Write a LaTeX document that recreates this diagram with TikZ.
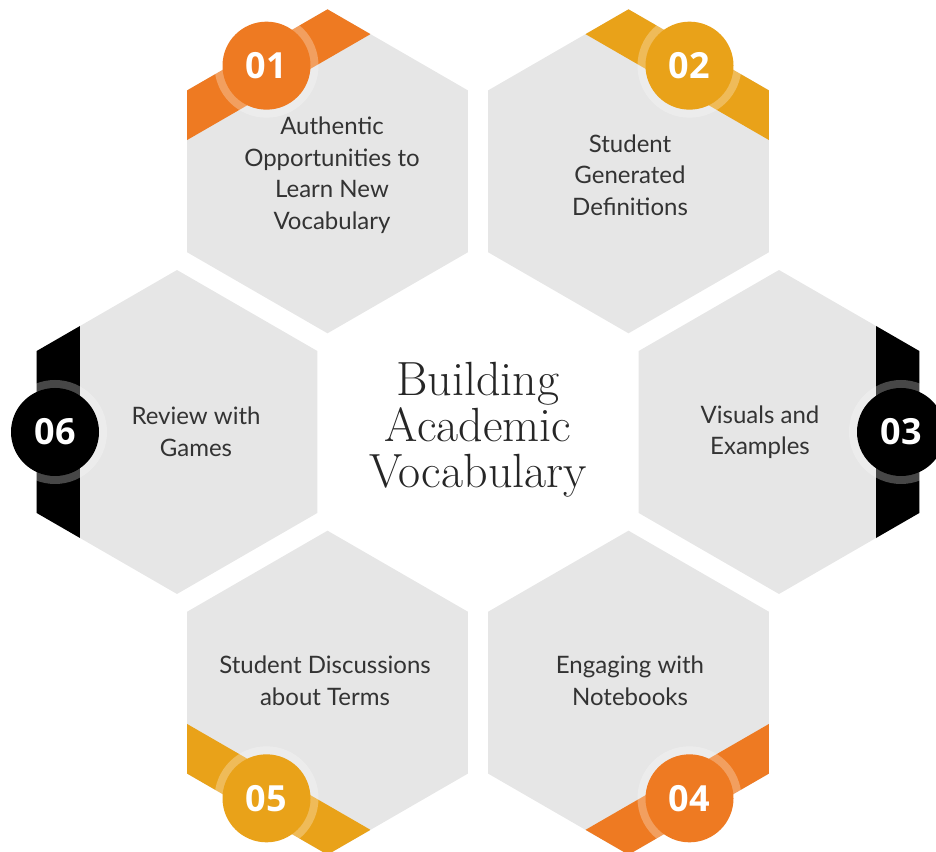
\documentclass[tikz,border=0pt]{standalone}
\usepackage{fontspec}
\newfontfamily\bodyfont{Lato}
\newfontfamily\numfont{Open Sans}
\definecolor{hexgrey}{HTML}{E6E6E6}
\definecolor{cOrange}{HTML}{EE7A22}
\definecolor{cGold}{HTML}{E9A219}
\definecolor{cBlack}{HTML}{000000}
\definecolor{txt}{HTML}{333333}
\tikzset{
  label/.style={align=center,text=txt,font=\bodyfont\fontsize{24}{31.5}\selectfont,inner sep=0pt},
  numtxt/.style={text=white,font=\numfont\bfseries\fontsize{36}{36}\selectfont,inner sep=0pt},
  titletxt/.style={align=center,text=black!85,font=\fontsize{48}{46}\selectfont,inner sep=0pt}
}
\newcommand\hexitem[4]{%
  \begin{scope}[shift={(c)},shift={(#1:301pt)}]
    \begin{scope}
      \clip (30:162pt)--(90:162pt)--(150:162pt)--(210:162pt)--(270:162pt)--(330:162pt)--cycle;
      \fill[hexgrey] (-200pt,-200pt) rectangle (200pt,200pt);
      \fill[#2,rotate=#1] (97.3pt,-200pt) rectangle (200pt,200pt);
    \end{scope}
    \fill[white,opacity=.28] (#1:122pt) circle (52pt);
    \fill[#2] (#1:122pt) circle (44pt);
    \node[numtxt] (n#3) at (#1:122pt) {#4};
  \end{scope}}
\begin{document}
\begin{tikzpicture}[x=1pt,y=1pt]
\useasboundingbox (0,0) rectangle (936,851);
\clip (0,0) rectangle (936,851);
\coordinate (c) at (478,419);
\hexitem{120}{cOrange}{1}{01}
\hexitem{60}{cGold}{2}{02}
\hexitem{0}{cBlack}{3}{03}
\hexitem{-60}{cOrange}{4}{04}
\hexitem{-120}{cGold}{5}{05}
\hexitem{180}{cBlack}{6}{06}
\node[label] (t1) at (332,676) {Authentic\\Opportunities to\\Learn New\\Vocabulary};
\node[label] (t2) at (630,676) {Student\\Generated\\Definitions};
\node[label] (t3) at (760,419) {Visuals and\\Examples};
\node[label] (t4) at (630,170) {Engaging with\\Notebooks};
\node[label] (t5) at (325,170) {Student Discussions\\about Terms};
\node[label] (t6) at (196,419) {Review with\\Games};
\node[titletxt] (title) at (478,421) {Building\\Academic\\Vocabulary};
\end{tikzpicture}
\end{document}
